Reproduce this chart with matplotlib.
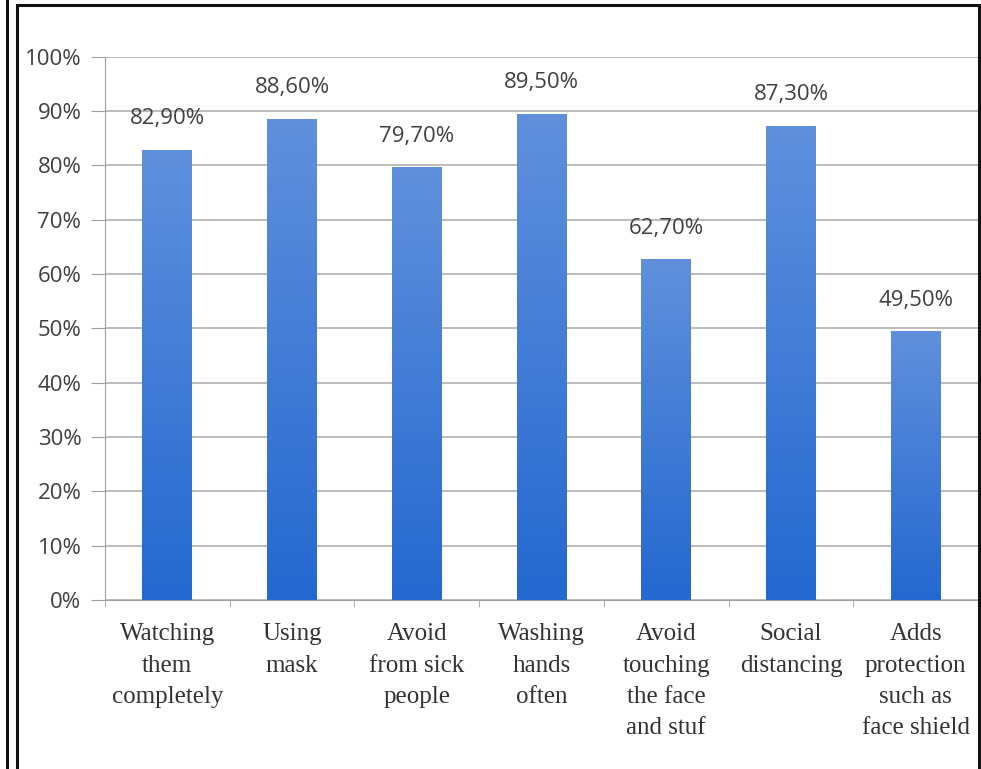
import numpy as np
import matplotlib
matplotlib.use('Agg')
import matplotlib.pyplot as plt
from matplotlib.colors import LinearSegmentedColormap
from matplotlib.patches import Rectangle
from matplotlib.lines import Line2D

categories = ['Watching\nthem\ncompletely', 'Using\nmask', 'Avoid\nfrom sick\npeople',
              'Washing\nhands\noften', 'Avoid\ntouching\nthe face\nand stuf',
              'Social\ndistancing', 'Adds\nprotection\nsuch as\nface shield']
values = [82.9, 88.6, 79.7, 89.5, 62.7, 87.3, 49.5]
value_labels = ['82,90%', '88,60%', '79,70%', '89,50%', '62,70%', '87,30%', '49,50%']
yticks = [0, 10, 20, 30, 40, 50, 60, 70, 80, 90, 100]

fig = plt.figure(figsize=(9.81, 7.69), dpi=100)
ax = fig.add_axes([0.107, 0.22, 0.89, 0.706])

x = np.arange(len(categories))
bars = ax.bar(x, values, width=0.4, color='none', zorder=3)

# vertical gradient inside each bar (light on top, darker at bottom)
cmap = LinearSegmentedColormap.from_list('grad', ['#2468d0', '#6090dc'])
grad = np.linspace(0, 1, 256).reshape(-1, 1)
for b in bars:
    x0, y0 = b.get_x(), b.get_y()
    im = ax.imshow(grad, cmap=cmap, origin='lower', aspect='auto',
                   extent=[x0, x0 + b.get_width(), y0, y0 + b.get_height()], zorder=3)
    im.set_clip_path(b)

for xi, v, lab in zip(x, values, value_labels):
    ax.text(xi, v + 5.7, lab, ha='center', va='center', fontsize=16,
            color='#404040', family='Open Sans')

ax.set_xlim(-0.5, len(categories) - 0.5)
ax.set_ylim(0, 100)
ax.set_yticks(yticks)
ax.set_yticklabels([f'{t}%' for t in yticks], fontsize=16, color='#404040', family='Open Sans')
ax.set_xticks(x)
ax.set_xticklabels(categories, fontsize=18, color='#333333', family='Liberation Serif',
                   linespacing=1.55)
ax.tick_params(axis='x', length=0, pad=17)
ax.tick_params(axis='y', length=10, color='#a0a0a0', pad=7)
ax.set_xticks(np.arange(len(categories) + 1) - 0.5, minor=True)
ax.tick_params(axis='x', which='minor', length=5, color='#a0a0a0')
ax.grid(axis='y', color='#b0b0b0', linewidth=1.2, zorder=0)
for s in ['top', 'right']:
    ax.spines[s].set_visible(False)
ax.spines['left'].set_color('#a0a0a0')
ax.spines['bottom'].set_color('#a0a0a0')

# surrounding frames
fig.add_artist(Rectangle((17 / 981, -0.01), 962 / 981, 1 - 5 / 769 + 0.01,
                         transform=fig.transFigure, fill=False, edgecolor='#111111', linewidth=2.2))
fig.add_artist(Line2D([7 / 981, 7 / 981], [0, 1], transform=fig.transFigure,
                      color='#111111', linewidth=2.2))

fig.savefig('out.png', dpi=100)
